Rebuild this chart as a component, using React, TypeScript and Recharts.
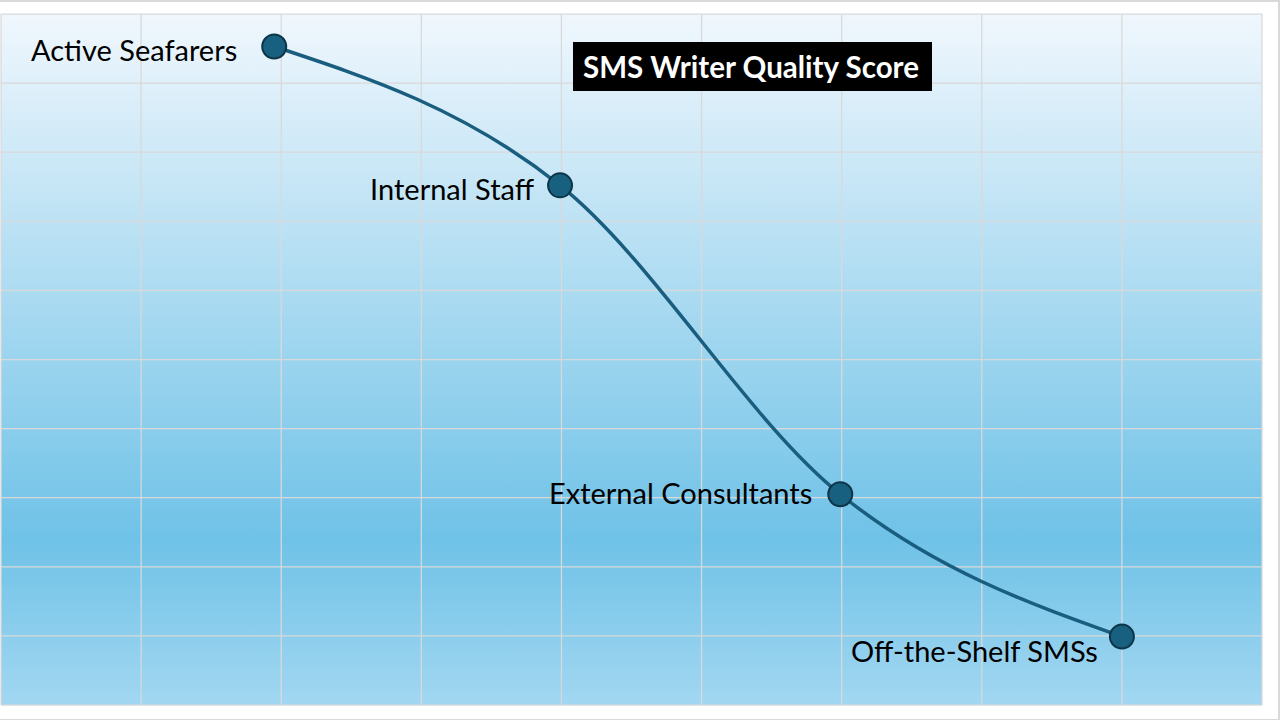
import React from 'react'
import { LineChart, Line, XAxis, YAxis, CartesianGrid, LabelList } from 'recharts'

// writer types, their position along the x scale and their quality score
const categories = ['Active Seafarers', 'Internal Staff', 'External Consultants', 'Off-the-Shelf SMSs']
const positions = [1.95, 3.99, 5.99, 8]
const scores = [9.53, 7.52, 3.05, 0.99]

const xTicks = [0, 1, 2, 3, 4, 5, 6, 7, 8, 9]
const yTicks = [0, 1, 2, 3, 4, 5, 6, 7, 8, 9, 10]

const title = 'SMS Writer Quality Score'

const data = categories.map((name, i) => ({ name, x: positions[i], score: scores[i] }))

// label placement relative to each dot (left of it, last one below-left)
const labelOffsets = [
  { dx: -37, dy: 15 },
  { dx: -26, dy: 15 },
  { dx: -28, dy: 10 },
  { dx: -24, dy: 25 },
]

const FONT = 'Lato, "Open Sans", sans-serif'

function renderLabel(props: any) {
  const { x, y, value, index } = props
  const off = labelOffsets[index] ?? { dx: -26, dy: 10 }
  return (
    <text
      x={Number(x) + off.dx}
      y={Number(y) + off.dy}
      textAnchor="end"
      fontFamily={FONT}
      fontSize={29}
      fill="#000"
    >
      {value}
    </text>
  )
}

export default function App() {
  return (
    <div
      style={{
        position: 'absolute',
        left: 0,
        top: 0,
        width: 1280,
        height: 720,
        boxSizing: 'border-box',
        borderTop: '2px solid #d9d9d9',
        borderRight: '2px solid #d9d9d9',
        borderBottom: '1px solid #d9d9d9',
        background: '#fff',
      }}
    >
      <div style={{ position: 'absolute', left: 0, top: -2 }}>
        <LineChart width={1280} height={720} data={data} margin={{ top: 14, right: 18, bottom: 15, left: 1 }}>
          <defs>
            <linearGradient id="bg" x1="0" y1="0" x2="0" y2="1">
              <stop offset="0%" stopColor="#f0f7fd" />
              <stop offset="76%" stopColor="#6fc2e7" />
              <stop offset="100%" stopColor="#a2d7f1" />
            </linearGradient>
          </defs>
          <CartesianGrid stroke="#d9d9d9" strokeWidth={1.25} fill="url(#bg)" fillOpacity={1} />
          <XAxis type="number" dataKey="x" domain={[0, 9]} ticks={xTicks} hide />
          <YAxis type="number" domain={[0, 10]} ticks={yTicks} hide />
          <Line
            type="monotone"
            dataKey="score"
            stroke="#195d7f"
            strokeWidth={3.5}
            dot={{ r: 12, fill: '#17607f', stroke: '#0e3448', strokeWidth: 2, fillOpacity: 1 }}
            activeDot={false}
            isAnimationActive={false}
          >
            <LabelList dataKey="name" content={renderLabel} />
          </Line>
        </LineChart>
      </div>
      <div
        style={{
          position: 'absolute',
          left: 573,
          top: 40,
          width: 359,
          height: 49,
          background: '#000',
          color: '#fff',
          fontFamily: FONT,
          fontWeight: 700,
          fontSize: 29.5,
          lineHeight: '49px',
          paddingLeft: 10,
          boxSizing: 'border-box',
          whiteSpace: 'nowrap',
        }}
      >
        {title}
      </div>
    </div>
  )
}
